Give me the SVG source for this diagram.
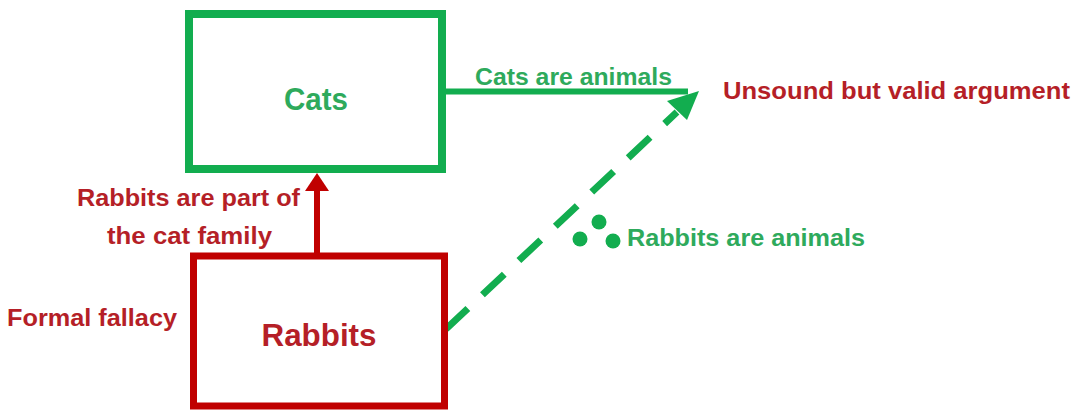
<svg xmlns="http://www.w3.org/2000/svg" width="1074" height="411" viewBox="0 0 1074 411">
<style>
  text { font-family: "Liberation Sans", Arial, sans-serif; font-weight: bold; }
  .g { fill: #2eaa5c; }
  .r { fill: #b51f27; }
  .box-g { fill: #ffffff; stroke: #12ad4f; stroke-width: 8; }
  .box-r { fill: #ffffff; stroke: #c00000; stroke-width: 7; }
</style>
<rect width="1074" height="411" fill="#ffffff"/>
<g id="connectors">
  <line x1="446" y1="91.5" x2="688" y2="91.5" stroke="#12ad4f" stroke-width="6"/>
  <line x1="446" y1="329" x2="677" y2="112" stroke="#12ad4f" stroke-width="7" stroke-dasharray="30 20"/>
  <polygon points="699,91 687,120 667,101" fill="#12ad4f"/>
  <line x1="317" y1="256" x2="317" y2="188" stroke="#c00000" stroke-width="6"/>
  <polygon points="317,173 305,191 329,191" fill="#c00000"/>
  <circle cx="580" cy="239" r="7.5" fill="#12ad4f"/>
  <circle cx="599" cy="222" r="7.5" fill="#12ad4f"/>
  <circle cx="613" cy="241" r="7.5" fill="#12ad4f"/>
</g>
<g id="node-cats">
  <rect class="box-g" x="189" y="14" width="253" height="155"/>
  <text class="g" x="316" y="110" font-size="31" text-anchor="middle" textLength="64" lengthAdjust="spacingAndGlyphs">Cats</text>
</g>
<g id="node-rabbits">
  <rect class="box-r" x="193.5" y="256" width="251" height="150"/>
  <text class="r" x="319" y="346" font-size="32" text-anchor="middle" textLength="115" lengthAdjust="spacingAndGlyphs">Rabbits</text>
</g>
<g id="labels">
  <text class="g" x="475" y="85" font-size="24" textLength="197" lengthAdjust="spacingAndGlyphs">Cats are animals</text>
  <text class="r" x="723" y="99" font-size="24" textLength="347" lengthAdjust="spacingAndGlyphs">Unsound but valid argument</text>
  <text class="r" x="77" y="206" font-size="24" textLength="223" lengthAdjust="spacingAndGlyphs">Rabbits are part of</text>
  <text class="r" x="107" y="244" font-size="24" textLength="165" lengthAdjust="spacingAndGlyphs">the cat family</text>
  <text class="r" x="7" y="326" font-size="24" textLength="170" lengthAdjust="spacingAndGlyphs">Formal fallacy</text>
  <text class="g" x="627" y="246" font-size="24" textLength="238" lengthAdjust="spacingAndGlyphs">Rabbits are animals</text>
</g>
</svg>
